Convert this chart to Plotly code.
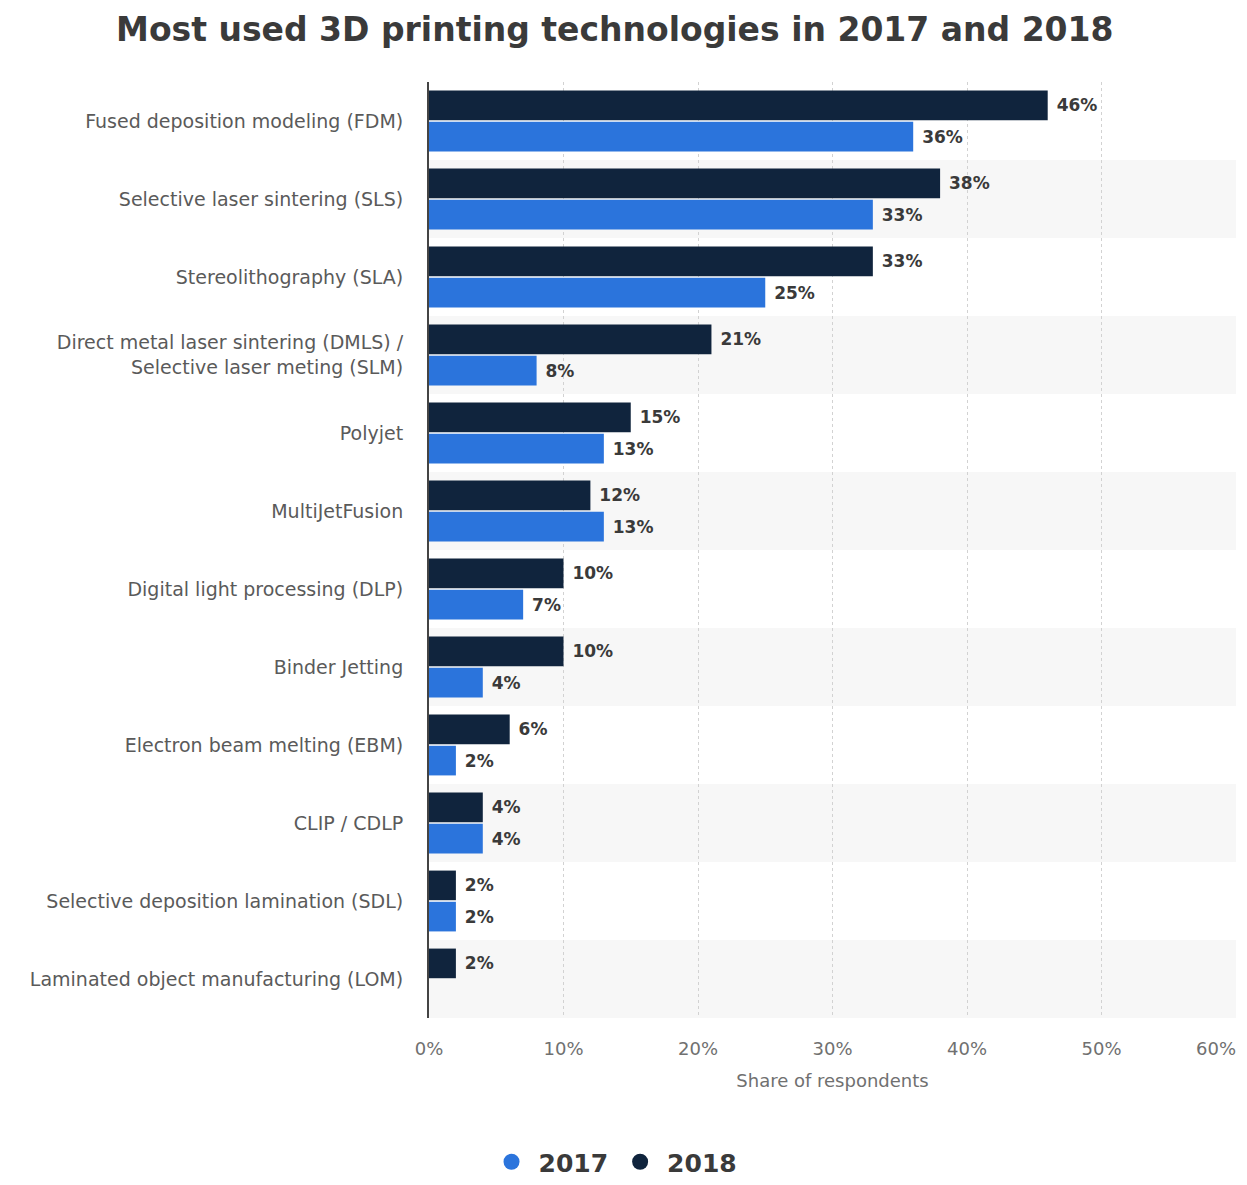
import plotly.graph_objects as go

categories = [
    "Fused deposition modeling (FDM)",
    "Selective laser sintering (SLS)",
    "Stereolithography (SLA)",
    "Direct metal laser sintering (DMLS) /<br>Selective laser meting (SLM)",
    "Polyjet",
    "MultiJetFusion",
    "Digital light processing (DLP)",
    "Binder Jetting",
    "Electron beam melting (EBM)",
    "CLIP / CDLP",
    "Selective deposition lamination (SDL)",
    "Laminated object manufacturing (LOM)",
]
values_2018 = [46, 38, 33, 21, 15, 12, 10, 10, 6, 4, 2, 2]
values_2017 = [36, 33, 25, 8, 13, 13, 7, 4, 2, 4, 2, None]
x_ticks = [0, 10, 20, 30, 40, 50, 60]
x_tick_labels = ["0%", "10%", "20%", "30%", "40%", "50%", ""]
x_last_tick = [60]
x_last_label = ["60%"]

c2017 = "#2b74dc"
c2018 = "#10243d"
font = "DejaVu Sans"


def pct(vals):
    return ["" if v is None else f"\u00a0{v}%" for v in vals]


fig = go.Figure()
fig.add_trace(go.Bar(
    y=categories, x=values_2018, orientation="h", name="2018",
    marker=dict(color=c2018, line=dict(width=0)),
    text=pct(values_2018), texttemplate="%{text}", textposition="outside",
    cliponaxis=False,
    textfont=dict(family=font, size=17, color="#3a3a3a", weight="bold"),
    showlegend=False,
))
fig.add_trace(go.Bar(
    y=categories, x=values_2017, orientation="h", name="2017",
    marker=dict(color=c2017, line=dict(width=0)),
    text=pct(values_2017), texttemplate="%{text}", textposition="outside",
    cliponaxis=False,
    textfont=dict(family=font, size=17, color="#3a3a3a", weight="bold"),
    showlegend=False,
))
# invisible trace to carry the overlay axis with the last tick label
fig.add_trace(go.Scatter(x=[None], y=[None], xaxis="x2", mode="markers",
                         showlegend=False, hoverinfo="skip"))
# legend entries
fig.add_trace(go.Scatter(x=[None], y=[None], mode="markers", name="2017",
                         marker=dict(color=c2017, size=26, symbol="circle")))
fig.add_trace(go.Scatter(x=[None], y=[None], mode="markers", name="2018",
                         marker=dict(color=c2018, size=26, symbol="circle")))

shapes = []
for i in range(len(categories)):
    if i % 2 == 1:
        shapes.append(dict(type="rect", xref="paper", yref="y", x0=0, x1=1,
                           y0=i - 0.5, y1=i + 0.5, fillcolor="#f7f7f7",
                           line=dict(width=0), layer="below"))

tickfont = dict(family=font, size=18, color="#707070")

fig.update_layout(
    width=1247, height=1185,
    paper_bgcolor="white", plot_bgcolor="white",
    margin=dict(l=429, r=11, t=82, b=167),
    barmode="group", bargap=0.2, bargroupgap=0.05,
    shapes=shapes,
    title=dict(text="<b>Most used 3D printing technologies in 2017 and 2018</b>",
               x=0.493, xanchor="center", y=0.975, yanchor="middle",
               font=dict(family=font, size=33, color="#3a3a3a")),
    xaxis=dict(range=[0, 60], tickvals=x_ticks, ticktext=x_tick_labels,
               automargin=False,
               showgrid=True, gridcolor="#d2d2d2", griddash="dot", gridwidth=1,
               zeroline=False, showline=False, ticklabelstandoff=18,
               tickfont=tickfont,
               title=dict(text="Share of respondents", standoff=16,
                          font=dict(family=font, size=18, color="#707070"))),
    xaxis2=dict(range=[0, 60], overlaying="x", side="bottom",
                tickvals=x_last_tick, ticktext=x_last_label,
                ticklabelposition="outside left", automargin=False,
                showgrid=False, zeroline=False, showline=False,
                ticklabelstandoff=18, tickfont=tickfont),
    yaxis=dict(autorange="reversed", showgrid=False, showline=True,
               linecolor="#444444", linewidth=2, ticks="",
               ticklabelstandoff=20, automargin=False,
               tickfont=dict(family=font, size=19, color="#5a5a5a")),
    legend=dict(orientation="h", xref="container", x=0.492, xanchor="center",
                yref="container", y=0.0, yanchor="bottom",
                font=dict(family=font, size=25, color="#3a3a3a", weight="bold"),
                itemsizing="trace", itemwidth=44),
)

fig.write_html("out.html")
